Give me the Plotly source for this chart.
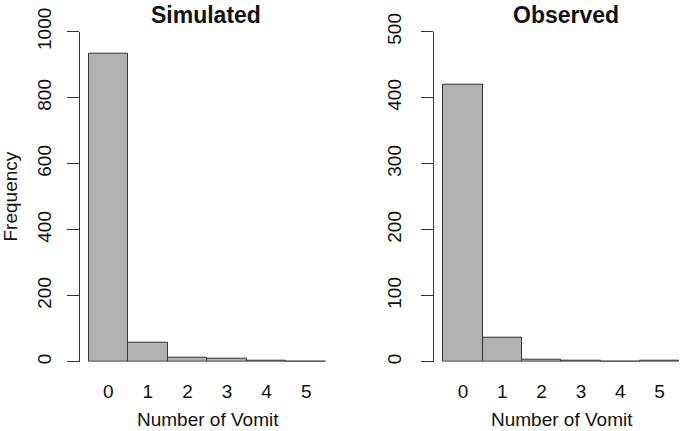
import plotly.graph_objects as go

categories = [0, 1, 2, 3, 4, 5]
simulated = [934, 57, 11, 8, 4, 1]
observed = [420, 36, 3, 1, 0, 1]
sim_yticks = [0, 200, 400, 600, 800, 1000]
obs_yticks = [0, 100, 200, 300, 400, 500]

W, H = 680, 431
def px_x(p): return p / W
def px_y(p): return 1 - p / H

FONT = "Liberation Sans, Arial, sans-serif"
BAR_COLOR = "#b1b1b1"
LINE_COLOR = "#333333"

fig = go.Figure()
fig.add_trace(go.Bar(x=categories, y=simulated, width=1, marker=dict(color=BAR_COLOR, line=dict(color=LINE_COLOR, width=1)), xaxis="x", yaxis="y", showlegend=False))
fig.add_trace(go.Bar(x=categories, y=observed, width=1, marker=dict(color=BAR_COLOR, line=dict(color=LINE_COLOR, width=1)), xaxis="x2", yaxis="y2", showlegend=False))

ydom = [px_y(361.7), px_y(31.7)]
common_x = dict(showgrid=False, zeroline=False, showline=False, ticks="", tickvals=categories,
                ticktext=[str(c) for c in categories], tickfont=dict(family=FONT, size=19, color="#111"),
                ticklabelstandoff=16, automargin=False)
common_y = dict(showgrid=False, zeroline=False, showline=True, linecolor="#333", linewidth=1,
                ticks="outside", ticklen=12, tickcolor="#333", tickangle=-90,
                tickfont=dict(family=FONT, size=19, color="#111"), automargin=False)

fig.update_layout(
    width=W, height=H, margin=dict(l=0, r=0, t=0, b=0, autoexpand=False),
    paper_bgcolor="white", plot_bgcolor="white", bargap=0,
    xaxis=dict(domain=[px_x(80), px_x(326)], range=[-0.5 - 8.5 / 39.6, 5.5], anchor="y", **common_x),
    yaxis=dict(domain=ydom, range=[0, 1000], tickvals=sim_yticks, anchor="x", ticklabelstandoff=8, **common_y),
    xaxis2=dict(domain=[px_x(434), px_x(679.3)], range=[-0.5 - 9.3 / 39.33, 5.5], anchor="y2", **common_x),
    yaxis2=dict(domain=ydom, range=[0, 500], tickvals=obs_yticks, anchor="x2", ticklabelstandoff=12, **common_y),
)

def ann(text, x, y, size=19, bold=False, angle=0, yanchor="middle"):
    fig.add_annotation(text=f"<b>{text}</b>" if bold else text, x=px_x(x), y=px_y(y), xref="paper", yref="paper",
                       showarrow=False, textangle=angle, xanchor="center", yanchor=yanchor,
                       font=dict(family=FONT, size=size, color="#111"))

ann("Simulated", 206, 0, size=23, bold=True, yanchor="top")
ann("Observed", 566, 0, size=23, bold=True, yanchor="top")
ann("Number of Vomit", 207.5, 419)
ann("Number of Vomit", 561.5, 419)
ann("Frequency", 10, 196.5, angle=-90)

fig.write_html("out.html", config={"displayModeBar": False},
               post_script="document.body.style.margin='0';document.body.style.padding='0';document.body.style.overflow='hidden';")
